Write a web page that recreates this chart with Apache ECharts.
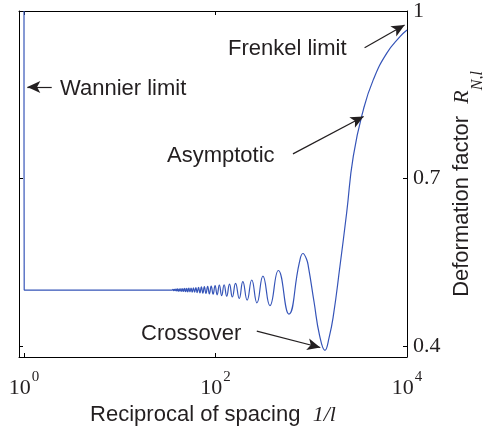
<!DOCTYPE html>
<html>
<head>
<meta charset="utf-8">
<script src="https://cdn.jsdelivr.net/npm/echarts@6/dist/echarts.min.js"></script>
<style>
html, body { margin: 0; background: #fff; }
#main { width: 483px; height: 429px; }
</style>
</head>
<body>
<div id="main"></div>
<script>
// reciprocal of spacing 1/l (x) and deformation factor R (y)
var spacing = [1, 1.005, 1.02, 1.1, 2, 5, 10, 20, 30, 35.2,
    35.9, 36.5, 37.2, 37.9, 38.6, 39.4, 40.1, 41.0, 41.8, 42.7,
    43.6, 44.6, 45.6, 46.6, 47.7, 48.9, 50.1, 51.3, 52.7, 54.1,
    55.6, 57.1, 58.8, 60.5, 62.4, 64.4, 66.5, 68.8, 71.2, 73.8,
    76.5, 79.5, 82.8, 86.3, 90.2, 94.4, 99, 104, 109.7, 116,
    123, 131, 140, 150, 162, 177, 193, 214, 239, 271,
    313, 370, 453, 583, 751, 819, 890, 937, 1069, 1224,
    1390, 1542, 1702, 1995, 2345, 2750, 3500, 4450, 6130, 8450, 10000];
var factor = [1, 0.5, 0.5, 0.5, 0.5, 0.5, 0.5, 0.5, 0.5, 0.5,
    0.501, 0.499, 0.501, 0.499, 0.5015, 0.4985, 0.502, 0.498, 0.502, 0.498,
    0.5025, 0.4975, 0.5025, 0.4975, 0.503, 0.497, 0.503, 0.4965, 0.5035, 0.4965,
    0.5035, 0.496, 0.504, 0.496, 0.5045, 0.4955, 0.505, 0.495, 0.5055, 0.4945,
    0.506, 0.494, 0.5065, 0.493, 0.507, 0.4925, 0.508, 0.4915, 0.509, 0.49,
    0.5095, 0.489, 0.5105, 0.4875, 0.512, 0.485, 0.515, 0.482, 0.518, 0.477,
    0.525, 0.472, 0.535, 0.457, 0.549, 0.5655, 0.556, 0.540, 0.479, 0.418,
    0.392, 0.416, 0.454, 0.543, 0.639, 0.740, 0.823, 0.877, 0.924, 0.954, 0.966];

var xTicks = [1, 100, 10000];
var yTicks = [0.4, 0.7, 1];
var xMin = 0.8867, xMax = 10000;
var yMin = 0.38, yMax = 1;

// annotation arrows: tail -> head, in data units
var arrowFrom = [[1.948, 0.864], [3606, 0.934], [644, 0.744], [270, 0.4264]];
var arrowTo = [[1.083, 0.864], [9441, 0.975], [3523, 0.811], [1242, 0.397]];
var noteText = ['Wannier limit', 'Frenkel limit', 'Asymptotic', 'Crossover'];

var ink = '#231f20';
var sans = 'Liberation Sans';
var serif = 'Liberation Serif';

var chart = echarts.init(document.getElementById('main'));

var points = spacing.map(function (x, i) { return [x, factor[i]]; });
var xTickExp = xTicks.map(function (v) { return Math.log10(v); });

var notePos = [[60, 89], [228, 49], [167, 155.5], [141, 334]];
var graphics = noteText.map(function (t, i) {
    return {
        type: 'text',
        x: notePos[i][0],
        y: notePos[i][1],
        silent: true,
        style: {
            text: t,
            fontFamily: sans,
            fontSize: 22,
            fill: ink,
            verticalAlign: 'middle'
        }
    };
});

var frameLine = { show: true, onZero: false, lineStyle: { color: '#000', width: 1 } };

var option = {
    animation: false,
    backgroundColor: '#fff',
    grid: { left: 19, top: 11, width: 388, height: 346, containLabel: false, outerBoundsMode: 'none' },
    xAxis: [
        {
            type: 'log',
            logBase: 10,
            min: xMin,
            max: xMax,
            show: false
        },
        {
            type: 'value',
            min: Math.log10(xMin),
            max: Math.log10(xMax),
            position: 'bottom',
            axisLine: frameLine,
            axisTick: { show: true, inside: true, length: 4, customValues: xTickExp, lineStyle: { color: '#000' } },
            splitLine: { show: false },
            axisLabel: {
                customValues: xTickExp,
                margin: 20,
                showMinLabel: true,
                showMaxLabel: true,
                formatter: function (v) {
                    return '{b|10}{s|' + Math.round(v) + '}';
                },
                rich: {
                    b: { fontFamily: serif, fontSize: 22, lineHeight: 22, color: ink, verticalAlign: 'bottom' },
                    s: { fontFamily: serif, fontSize: 15, lineHeight: 15, color: ink, verticalAlign: 'bottom', padding: [0, 0, 14, 1] }
                }
            },
            name: '{a|Reciprocal of spacing  }{i|1/l}',
            nameLocation: 'middle',
            nameGap: 43,
            nameTextStyle: {
                rich: {
                    a: { fontFamily: sans, fontSize: 22, lineHeight: 22, color: ink },
                    i: { fontFamily: serif, fontStyle: 'italic', fontSize: 22, lineHeight: 22, color: ink }
                }
            }
        },
        {
            type: 'value',
            min: Math.log10(xMin),
            max: Math.log10(xMax),
            position: 'top',
            axisLine: frameLine,
            axisTick: { show: true, inside: true, length: 4, customValues: xTickExp, lineStyle: { color: '#000' } },
            splitLine: { show: false },
            axisLabel: { show: false }
        }
    ],
    yAxis: [
        {
            type: 'value',
            min: yMin,
            max: yMax,
            position: 'right',
            axisLine: frameLine,
            axisTick: { show: true, inside: true, length: 4, customValues: yTicks, lineStyle: { color: '#000' } },
            splitLine: { show: false },
            axisLabel: {
                customValues: yTicks,
                margin: 6,
                showMinLabel: true,
                showMaxLabel: true,
                fontFamily: serif,
                fontSize: 22,
                color: ink
            },
            name: '{a|Deformation factor  }{r|R}{sub|N,l}',
            nameLocation: 'middle',
            nameGap: 43,
            nameTextStyle: {
                rich: {
                    a: { fontFamily: sans, fontSize: 22, lineHeight: 22, color: ink, verticalAlign: 'top' },
                    r: { fontFamily: serif, fontStyle: 'italic', fontSize: 22, lineHeight: 22, color: ink, verticalAlign: 'top' },
                    sub: { fontFamily: serif, fontStyle: 'italic', fontSize: 16, lineHeight: 16, color: ink, verticalAlign: 'top', padding: [18, 0, 0, 0] }
                }
            }
        },
        {
            type: 'value',
            min: yMin,
            max: yMax,
            position: 'left',
            axisLine: frameLine,
            axisTick: { show: true, inside: true, length: 4, customValues: yTicks, lineStyle: { color: '#000' } },
            splitLine: { show: false },
            axisLabel: { show: false }
        }
    ],
    graphic: graphics,
    series: [
        {
            type: 'line',
            xAxisIndex: 0,
            yAxisIndex: 0,
            data: points,
            smooth: true,
            symbol: 'none',
            lineStyle: { color: '#3554b8', width: 1.2 },
            markLine: {
                silent: true,
                symbol: ['none', 'arrow'],
                symbolSize: [9, 13],
                lineStyle: { color: ink, width: 1.2, type: 'solid' },
                label: { show: false },
                data: arrowFrom.map(function (p, i) {
                    return [{ coord: p }, { coord: arrowTo[i] }];
                })
            }
        }
    ]
};

chart.setOption(option);
</script>
</body>
</html>
